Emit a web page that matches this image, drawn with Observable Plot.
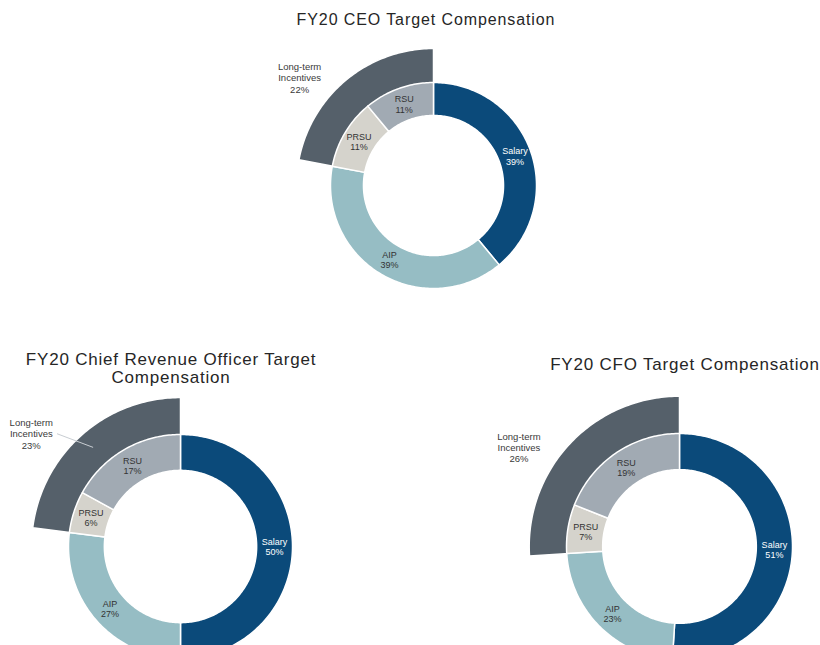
<!DOCTYPE html>
<html><head><meta charset="utf-8">
<script src="https://cdn.jsdelivr.net/npm/d3@7"></script>
<script src="https://cdn.jsdelivr.net/npm/@observablehq/plot@0.6"></script>
<style>
body{margin:0;width:820px;height:645px;overflow:hidden;background:#fff;position:relative;font-family:Arial,"Liberation Sans",sans-serif;}
.chart{position:absolute;}
.title{position:absolute;text-align:center;color:#262626;white-space:pre;transform:translateX(-50%);}
</style></head><body>
<script>
// ---- data ----
const categories = ["Salary", "AIP", "PRSU", "RSU"];
const ltiCategory = "Long-term Incentives";
const chartTitles = [
  "FY20 CEO Target Compensation",
  "FY20 Chief Revenue Officer Target\nCompensation",
  "FY20 CFO Target Compensation"
];
const ceoValues = [39, 39, 11, 11];
const croValues = [50, 27, 6, 17];
const cfoValues = [51, 23, 7, 19];
const ltiValues = [22, 23, 26];
const colorRange = ["#0b4a7a", "#96bdc4", "#d5d3cc", "#a1aab3", "#55606a"];

// ---- layout (pixels) ----
const layouts = [
  {values: ceoValues, lti: ltiValues[0], title: chartTitles[0], cx: 433, cy: 185, R: 103,
   box: {left: 270, top: 40, width: 310, height: 260},
   titleBox: {x: 426, y: 10, size: 16, ls: 0.9}, leader: false},
  {values: croValues, lti: ltiValues[1], title: chartTitles[1], cx: 180, cy: 546, R: 112,
   box: {left: 0, top: 390, width: 330, height: 255},
   titleBox: {x: 171, y: 351, size: 17, ls: 0.8, lh: 18}, leader: true},
  {values: cfoValues, lti: ltiValues[2], title: chartTitles[2], cx: 679, cy: 546, R: 113,
   box: {left: 500, top: 390, width: 320, height: 255},
   titleBox: {x: 685, y: 355, size: 17, ls: 0.8}, leader: false}
];

const innerR = 0.68, ltiOuter = 1.33;

function arcRing(key, a0, a1, r0, r1) {
  // a0, a1 as fractions of full turn, clockwise from 12 o'clock
  const n = Math.max(4, Math.ceil((a1 - a0) * 360));
  const pts = [];
  for (let i = 0; i <= n; i++) {
    const t = 2 * Math.PI * (a0 + (a1 - a0) * i / n);
    pts.push({key, x: r1 * Math.sin(t), y: r1 * Math.cos(t)});
  }
  for (let i = n; i >= 0; i--) {
    const t = 2 * Math.PI * (a0 + (a1 - a0) * i / n);
    pts.push({key, x: r0 * Math.sin(t), y: r0 * Math.cos(t)});
  }
  pts.push({...pts[0]});
  return pts;
}

layouts.forEach((L) => {
  const total = d3.sum(L.values);
  let acc = 0;
  const slices = L.values.map((v, i) => {
    const a0 = acc / total; acc += v; const a1 = acc / total;
    return {cat: categories[i], v, a0, a1};
  });
  const ltiStart = 1 - L.lti / 100;
  const ltiPts = arcRing(ltiCategory, ltiStart, 1, 0.98, ltiOuter);
  const slicePts = slices.flatMap(s => arcRing(s.cat, s.a0, s.a1, innerR, 1));
  const midR = (innerR + 1) / 2;
  const labels = slices.map(s => {
    const t = 2 * Math.PI * (s.a0 + s.a1) / 2;
    return {cat: s.cat, text: `${s.cat}\n${s.v}%`, x: midR * Math.sin(t), y: midR * Math.cos(t)};
  });
  const ltiMidFrac = (ltiStart + 1) / 2;
  const la = 2 * Math.PI * (ltiMidFrac - 0.032);
  const ltiLabel = [{text: `Long-term\nIncentives\n${L.lti}%`, x: 1.67 * Math.sin(la), y: 1.67 * Math.cos(la)}];

  const b = L.box;
  const xDomain = [(b.left - L.cx) / L.R, (b.left + b.width - L.cx) / L.R];
  const yDomain = [(L.cy - (b.top + b.height)) / L.R, (L.cy - b.top) / L.R];

  const marks = [
    Plot.line(ltiPts, {x: "x", y: "y", z: "key", fill: "key", stroke: "white", strokeWidth: 1.5, curve: "linear"}),
    Plot.line(slicePts, {x: "x", y: "y", z: "key", fill: "key", stroke: "white", strokeWidth: 1.5, curve: "linear"}),
    Plot.text(labels.filter(d => d.cat === "Salary"), {x: "x", y: "y", text: "text", fill: "white", fontSize: 9, lineHeight: 1.15}),
    Plot.text(labels.filter(d => d.cat !== "Salary"), {x: "x", y: "y", text: "text", fill: "#333", fontSize: 9, lineHeight: 1.15}),
    Plot.text(ltiLabel, {x: "x", y: "y", text: "text", fill: "#3a3a3a", fontSize: 9.5, lineHeight: 1.2})
  ];
  if (L.leader) {
    const lp = ltiLabel[0];
    const tl = 2 * Math.PI * ltiMidFrac;
    marks.push(Plot.link([{x1: lp.x + 0.23, y1: lp.y, x2: 1.18 * Math.sin(tl), y2: 1.18 * Math.cos(tl)}],
      {x1: "x1", y1: "y1", x2: "x2", y2: "y2", stroke: "#c8cdd2", strokeWidth: 1}));
  }

  const svg = Plot.plot({
    width: b.width, height: b.height,
    margin: 0,
    style: {background: "transparent", fontFamily: "Arial, 'Liberation Sans', sans-serif", overflow: "visible"},
    x: {domain: xDomain, axis: null},
    y: {domain: yDomain, axis: null},
    color: {domain: [...categories, ltiCategory], range: colorRange},
    marks
  });
  const wrap = document.createElement("div");
  wrap.className = "chart";
  wrap.style.left = b.left + "px";
  wrap.style.top = b.top + "px";
  wrap.appendChild(svg);
  document.body.appendChild(wrap);

  const t = document.createElement("div");
  t.className = "title";
  t.textContent = L.title;
  const tb = L.titleBox;
  t.style.left = tb.x + "px";
  t.style.top = tb.y + "px";
  t.style.fontSize = tb.size + "px";
  t.style.letterSpacing = tb.ls + "px";
  t.style.lineHeight = (tb.lh || tb.size * 1.2) + "px";
  document.body.appendChild(t);
});
</script>
</body></html>
